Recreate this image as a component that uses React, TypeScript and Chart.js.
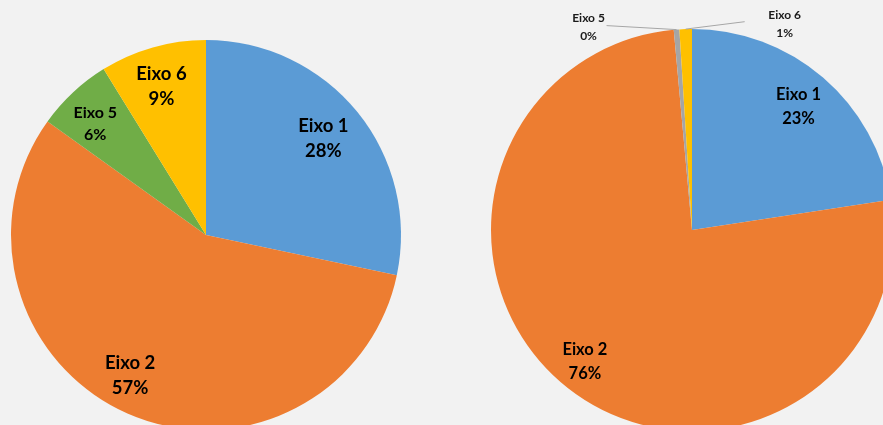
import React, { useEffect, useRef } from "react";
import { Chart, registerables } from "chart.js";

Chart.register(...registerables);

// ---------- data ----------
const leftCategories = ["Eixo 1", "Eixo 2", "Eixo 5", "Eixo 6"];
const leftValues = [28.3, 56.6, 6.3, 8.8];
const leftColors = ["#5b9bd5", "#ed7d31", "#70ad47", "#ffc000"];

const rightCategories = ["Eixo 1", "Eixo 2", "Eixo 5", "Eixo 6"];
const rightValues = [22.6, 75.95, 0.45, 1.0];
const rightColors = ["#5b9bd5", "#ed7d31", "#a5a5a5", "#ffc000"];

// ---------- label styling ----------
type LabelCfg = {
  inside: boolean;
  ratio: number;
  dx: number;
  dy: number;
  size: number;
  gap: number;
  color: string;
  line?: [number, number];
};

const leftLabelCfg: LabelCfg[] = [
  { inside: true, ratio: 0.775, dx: 0, dy: -2, size: 18.5, gap: 25.5, color: "#000" },
  { inside: true, ratio: 0.8, dx: -13, dy: -3, size: 18.5, gap: 25.5, color: "#000" },
  { inside: true, ratio: 0.81, dx: -3, dy: 3.5, size: 16, gap: 22, color: "#000" },
  { inside: true, ratio: 0.79, dx: -2.5, dy: -1, size: 18.5, gap: 25, color: "#000" },
];

const rightLabelCfg: LabelCfg[] = [
  { inside: true, ratio: 0.813, dx: 0, dy: 0, size: 16.5, gap: 24.4, color: "#000" },
  { inside: true, ratio: 0.84, dx: -3, dy: -2, size: 16.5, gap: 23.5, color: "#000" },
  { inside: false, ratio: 1, dx: -88, dy: -3, size: 12, gap: 18, color: "#1a1a1a", line: [-70, -4] },
  { inside: false, ratio: 1, dx: 99, dy: -5, size: 12, gap: 18, color: "#1a1a1a", line: [59, -7.4] },
];

function makeLabelPlugin(cfgs: LabelCfg[]) {
  return {
    id: "sliceLabels",
    afterDatasetsDraw(chart: any) {
      const ctx = chart.ctx as CanvasRenderingContext2D;
      const meta = chart.getDatasetMeta(0);
      const data = chart.data.datasets[0].data as number[];
      const labels = chart.data.labels as string[];
      const total = data.reduce((a, b) => a + b, 0);
      ctx.save();
      meta.data.forEach((arc: any, i: number) => {
        const cfg = cfgs[i];
        if (!cfg) return;
        const p = arc.getProps(["x", "y", "startAngle", "endAngle", "outerRadius"], true);
        const mid = (p.startAngle + p.endAngle) / 2;
        const r = p.outerRadius * cfg.ratio;
        const px = p.x + Math.cos(mid) * r;
        const py = p.y + Math.sin(mid) * r;
        if (cfg.line) {
          ctx.strokeStyle = "#a6a6a6";
          ctx.lineWidth = 1;
          ctx.beginPath();
          ctx.moveTo(px, py);
          ctx.lineTo(px + cfg.line[0], py + cfg.line[1]);
          ctx.stroke();
        }
        const cx = px + cfg.dx;
        const cy = py + cfg.dy;
        ctx.fillStyle = cfg.color;
        ctx.font = `bold ${cfg.size}px Lato, "Open Sans", sans-serif`;
        ctx.textAlign = "center";
        ctx.textBaseline = "alphabetic";
        const capOff = cfg.size * 0.36;
        const pct = Math.round((data[i] / total) * 100) + "%";
        ctx.fillText(labels[i], cx, cy - cfg.gap / 2 + capOff);
        ctx.fillText(pct, cx, cy + cfg.gap / 2 + capOff);
      });
      ctx.restore();
    },
  };
}

type PieProps = {
  labels: string[];
  values: number[];
  colors: string[];
  cfg: LabelCfg[];
  left: number;
  top: number;
  width: number;
  height: number;
  padding: { left: number; top: number; right: number; bottom: number };
};

function PieChart(props: PieProps) {
  const ref = useRef<HTMLCanvasElement | null>(null);
  useEffect(() => {
    if (!ref.current) return;
    const chart = new Chart(ref.current, {
      type: "pie",
      data: {
        labels: props.labels,
        datasets: [
          {
            data: props.values,
            backgroundColor: props.colors,
            borderWidth: 0,
          },
        ],
      },
      options: {
        responsive: false,
        animation: false,
        events: [],
        layout: { padding: props.padding },
        plugins: {
          legend: { display: false },
          tooltip: { enabled: false },
        },
      },
      plugins: [makeLabelPlugin(props.cfg)],
    } as any);
    return () => chart.destroy();
  }, []);
  return (
    <canvas
      ref={ref}
      width={props.width}
      height={props.height}
      style={{
        position: "absolute",
        left: props.left,
        top: props.top,
        width: props.width,
        height: props.height,
      }}
    />
  );
}

export default function App() {
  return (
    <div
      style={{
        position: "fixed",
        left: 0,
        top: 0,
        width: 883,
        height: 425,
        background: "#f2f2f2",
        overflow: "hidden",
      }}
    >
      <PieChart
        labels={leftCategories}
        values={leftValues}
        colors={leftColors}
        cfg={leftLabelCfg}
        left={0}
        top={0}
        width={440}
        height={460}
        padding={{ left: 11, top: 40, right: 39, bottom: 30 }}
      />
      <PieChart
        labels={rightCategories}
        values={rightValues}
        colors={rightColors}
        cfg={rightLabelCfg}
        left={440}
        top={0}
        width={504}
        height={460}
        padding={{ left: 51, top: 29, right: 51, bottom: 29 }}
      />
    </div>
  );
}
